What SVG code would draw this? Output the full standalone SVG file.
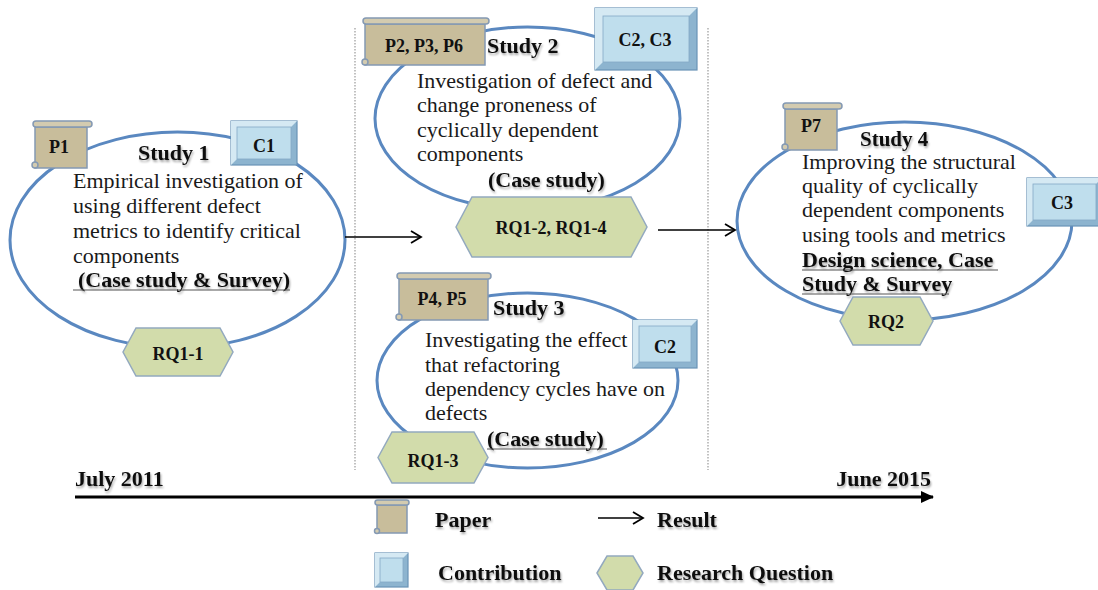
<svg xmlns="http://www.w3.org/2000/svg" width="1098" height="590" viewBox="0 0 1098 590">
  <style>
    .body { font-family: "Liberation Serif", "Times New Roman", serif; font-size: 22px; fill: #1a1a1a; }
    .bold { font-family: "Liberation Serif", "Times New Roman", serif; font-size: 22px; font-weight: bold; fill: #111; filter: url(#shadow); }
    .tag { font-family: "Liberation Serif", "Times New Roman", serif; font-size: 18px; font-weight: bold; fill: #111; text-anchor: middle; }
    .study { fill: #ffffff; stroke: #5a88c0; stroke-width: 3; }
    .roll { fill: #d3cbb0; stroke: #8499b3; stroke-width: 1.5; }
    .sheet { fill: #c8bd9b; stroke: #8499b3; stroke-width: 1.5; }
    .frame { fill: #8db4cf; stroke: #6a93b6; stroke-width: 1.2; }
    .bevel { fill: #d5e9f3; }
    .face { fill: #bfdeed; stroke: #84a9c5; stroke-width: 0.8; }
    .rq { fill: #d2dcab; stroke: #93a9bf; stroke-width: 1.5; }
    .uline { stroke: #555; stroke-width: 1; }
    .divider { stroke: #999; stroke-width: 1.2; stroke-dasharray: 1.5 1.5; }
    .result { stroke: #000; stroke-width: 1.5; fill: none; }
  </style>
  <defs>
    <filter id="shadow" x="-10%" y="-20%" width="120%" height="160%">
      <feDropShadow dx="1" dy="2" stdDeviation="1.2" flood-color="#000" flood-opacity="0.35"/>
    </filter>
    <marker id="open" markerUnits="userSpaceOnUse" markerWidth="16" markerHeight="16" refX="12" refY="8" orient="auto">
      <path d="M2,2 L12,8 L2,14" fill="none" stroke="#000" stroke-width="1.8"/>
    </marker>
    <marker id="solid" markerUnits="userSpaceOnUse" markerWidth="14" markerHeight="12" refX="12" refY="6" orient="auto">
      <path d="M0,0 L13,6 L0,12 Z" fill="#000"/>
    </marker>
  </defs>

  <rect width="1098" height="590" fill="#ffffff"/>

  <!-- phase dividers -->
  <line class="divider" x1="355" y1="28" x2="355" y2="470"/>
  <line class="divider" x1="708" y1="28" x2="708" y2="470"/>

  <!-- Study 1 -->
  <g id="study1">
    <ellipse class="study" cx="177.5" cy="240" rx="167.5" ry="108"/>
    <text class="bold" x="138" y="160">Study 1</text>
    <text class="body" x="73" y="188">Empirical investigation of</text>
    <text class="body" x="73" y="213">using different defect</text>
    <text class="body" x="73" y="238">metrics to identify critical</text>
    <text class="body" x="73" y="263">components</text>
    <text class="bold" x="78" y="287">(Case study &amp; Survey)</text>
    <line class="uline" x1="73" y1="290" x2="290" y2="290"/>
  </g>
  <g id="p1">
    <rect class="sheet" x="35" y="127" width="52" height="41"/>
    <rect class="roll" x="33" y="121" width="59" height="6" rx="3"/>
    <circle class="roll" cx="35" cy="165" r="3"/>
    <text class="tag" x="59" y="153">P1</text>
  </g>
  <g id="c1">
    <rect class="frame" x="231" y="121" width="66" height="44"/>
    <polygon class="bevel" points="231,121 297,121 291,127 237,127 237,159 231,165"/>
    <rect class="face" x="237" y="127" width="54" height="32"/>
    <text class="tag" x="264" y="152">C1</text>
  </g>
  <g id="rq1-1">
    <polygon class="rq" points="123,352 136,328 220,328 233,352 220,376 136,376"/>
    <text class="tag" x="178" y="360">RQ1-1</text>
  </g>

  <!-- Study 2 -->
  <g id="study2">
    <ellipse class="study" cx="527.5" cy="118.5" rx="152.5" ry="91.5"/>
    <text class="bold" x="487" y="53">Study 2</text>
    <text class="body" x="417" y="88">Investigation of defect and</text>
    <text class="body" x="417" y="112">change proneness of</text>
    <text class="body" x="417" y="137">cyclically dependent</text>
    <text class="body" x="417" y="161">components</text>
    <text class="bold" x="488" y="187">(Case study)</text>
  </g>
  <g id="p2-p3-p6">
    <rect class="sheet" x="365" y="24" width="120" height="41"/>
    <rect class="roll" x="363" y="18" width="126" height="6" rx="3"/>
    <circle class="roll" cx="365" cy="62" r="3"/>
    <text class="tag" x="424" y="52">P2, P3, P6</text>
  </g>
  <g id="c2-c3">
    <rect class="frame" x="595" y="8" width="102" height="62"/>
    <polygon class="bevel" points="595,8 697,8 689,16 603,16 603,62 595,70"/>
    <rect class="face" x="603" y="16" width="86" height="46"/>
    <text class="tag" x="645" y="46">C2, C3</text>
  </g>
  <g id="rq1-2-rq1-4">
    <polygon class="rq" points="456,227 472,197 631,197 647,227 631,257 472,257"/>
    <text class="tag" x="551" y="234">RQ1-2, RQ1-4</text>
  </g>

  <!-- Study 3 -->
  <g id="study3">
    <ellipse class="study" cx="527.5" cy="380.5" rx="150.5" ry="87.5"/>
    <text class="bold" x="493" y="315">Study 3</text>
    <text class="body" x="425" y="347">Investigating the effect</text>
    <text class="body" x="425" y="372">that refactoring</text>
    <text class="body" x="425" y="396">dependency cycles have on</text>
    <text class="body" x="425" y="420">defects</text>
    <text class="bold" x="487" y="446">(Case study)</text>
    <line class="uline" x1="487" y1="449" x2="607" y2="449"/>
  </g>
  <g id="p4-p5">
    <rect class="sheet" x="399" y="279" width="89" height="41"/>
    <rect class="roll" x="397" y="273" width="94" height="6" rx="3"/>
    <circle class="roll" cx="399" cy="317" r="3"/>
    <text class="tag" x="442" y="305">P4, P5</text>
  </g>
  <g id="c2">
    <rect class="frame" x="633" y="320" width="64" height="48"/>
    <polygon class="bevel" points="633,320 697,320 691,326 639,326 639,362 633,368"/>
    <rect class="face" x="639" y="326" width="52" height="36"/>
    <text class="tag" x="665" y="353">C2</text>
  </g>
  <g id="rq1-3">
    <polygon class="rq" points="378,457.5 392,432 474,432 488,457.5 474,483 392,483"/>
    <text class="tag" x="433" y="467">RQ1-3</text>
  </g>

  <!-- Study 4 -->
  <g id="study4">
    <ellipse class="study" cx="904.5" cy="221" rx="167.5" ry="99"/>
    <text class="bold" x="860" y="146" style="font-size:21px">Study 4</text>
    <text class="body" x="802" y="169">Improving the structural</text>
    <text class="body" x="802" y="193">quality of cyclically</text>
    <text class="body" x="802" y="217">dependent components</text>
    <text class="body" x="802" y="242">using tools and metrics</text>
    <text class="bold" x="802" y="267">Design science, Case</text>
    <line class="uline" x1="802" y1="270" x2="998" y2="270"/>
    <text class="bold" x="802" y="291">Study &amp; Survey</text>
    <line class="uline" x1="802" y1="294" x2="949" y2="294"/>
  </g>
  <g id="p7">
    <rect class="sheet" x="785" y="109" width="52" height="41"/>
    <rect class="roll" x="783" y="103" width="59" height="6" rx="3"/>
    <circle class="roll" cx="785" cy="147" r="3"/>
    <text class="tag" x="811" y="132">P7</text>
  </g>
  <g id="c3">
    <rect class="frame" x="1027" y="178" width="75" height="48"/>
    <polygon class="bevel" points="1027,178 1102,178 1096,184 1033,184 1033,220 1027,226"/>
    <rect class="face" x="1033" y="184" width="63" height="36"/>
    <text class="tag" x="1062" y="209">C3</text>
  </g>
  <g id="rq2">
    <polygon class="rq" points="840,321 853,297 920,297 933,321 920,345 853,345"/>
    <text class="tag" x="886" y="328">RQ2</text>
  </g>

  <!-- result connectors -->
  <g id="connectors">
    <line class="result" x1="345" y1="237" x2="421" y2="237" marker-end="url(#open)"/>
    <line class="result" x1="658" y1="230" x2="735" y2="230" marker-end="url(#open)"/>
  </g>

  <!-- timeline -->
  <g id="timeline">
    <line x1="75" y1="497" x2="933" y2="497" stroke="#000" stroke-width="3" marker-end="url(#solid)"/>
    <text class="bold" x="75" y="486">July 2011</text>
    <text class="bold" x="931" y="486" text-anchor="end">June 2015</text>
  </g>

  <!-- legend -->
  <g id="legend">
    <rect class="sheet" x="377" y="505" width="30" height="28"/>
    <rect class="roll" x="375" y="500" width="34" height="5" rx="2.5"/>
    <circle class="roll" cx="377" cy="531" r="2.5"/>
    <text class="bold" x="435" y="527">Paper</text>

    <rect class="frame" x="375" y="553" width="33" height="34"/>
    <polygon class="bevel" points="375,553 408,553 403,558 380,558 380,582 375,587"/>
    <rect class="face" x="380" y="558" width="23" height="24"/>
    <text class="bold" x="438" y="580">Contribution</text>

    <line class="result" x1="598" y1="518" x2="643" y2="518" marker-end="url(#open)"/>
    <text class="bold" x="657" y="527">Result</text>

    <polygon class="rq" points="597,573 607,556 633,556 643,573 633,590 607,590"/>
    <text class="bold" x="657" y="580">Research Question</text>
  </g>
</svg>
